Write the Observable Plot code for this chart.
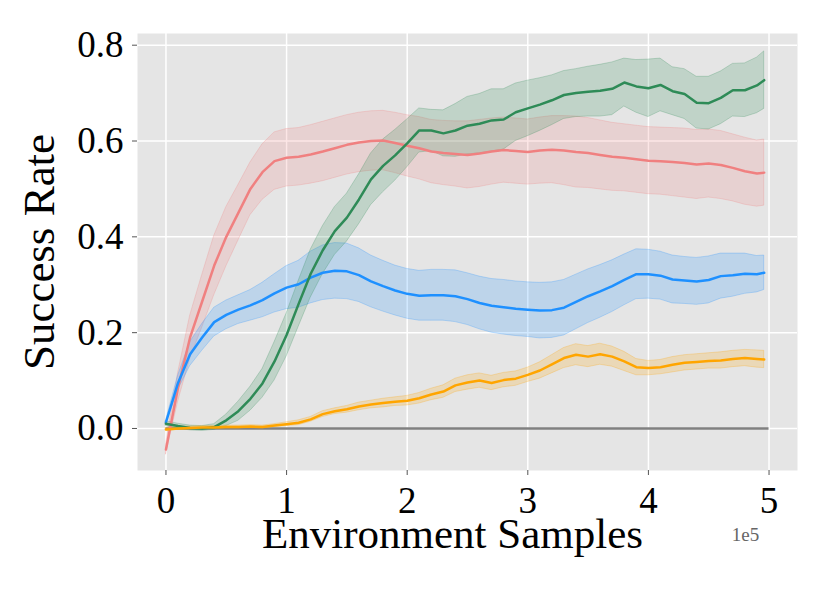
<!DOCTYPE html>
<html>
<head>
<meta charset="utf-8">
<script src="https://cdn.jsdelivr.net/npm/d3@7"></script>
<script src="https://cdn.jsdelivr.net/npm/@observablehq/plot@0.6"></script>
<style>
  html, body { margin: 0; padding: 0; background: #fff; }
  #chart svg { display: block; }
</style>
</head>
<body>
<div id="chart"></div>
<script>
// Environment samples (units of 1e5)
const steps = [0,0.1,0.2,0.3,0.4,0.5,0.6,0.7,0.8,0.9,
  1.0,1.1,1.2,1.3,1.4,1.5,1.6,1.7,1.8,1.9,
  2.0,2.1,2.2,2.3,2.4,2.5,2.6,2.7,2.8,2.9,
  3.0,3.1,3.2,3.3,3.4,3.5,3.6,3.7,3.8,3.9,
  4.0,4.1,4.2,4.3,4.4,4.5,4.6,4.7,4.8,4.9,4.96];

const redMean = [-0.044,0.085,0.19,0.265,0.34,0.40,0.45,0.50,0.535,0.558,
  0.565,0.567,0.572,0.578,0.585,0.592,0.597,0.600,0.601,0.596,
  0.590,0.585,0.578,0.575,0.573,0.571,0.574,0.578,0.581,0.579,
  0.577,0.580,0.582,0.580,0.577,0.575,0.571,0.567,0.565,0.562,
  0.559,0.558,0.556,0.554,0.551,0.553,0.550,0.544,0.537,0.532,0.534];
const redSpread = [0.01,0.03,0.045,0.055,0.062,0.062,0.058,0.055,0.058,0.06,
  0.06,0.06,0.061,0.062,0.062,0.062,0.062,0.062,0.062,0.063,
  0.064,0.065,0.066,0.067,0.068,0.07,0.07,0.069,0.068,0.068,
  0.068,0.069,0.07,0.072,0.074,0.073,0.072,0.071,0.07,0.07,
  0.07,0.07,0.071,0.072,0.072,0.071,0.071,0.07,0.07,0.069,0.069];

const blueMean = [0.013,0.095,0.155,0.19,0.222,0.237,0.248,0.257,0.268,0.282,
  0.294,0.301,0.315,0.325,0.329,0.328,0.320,0.307,0.297,0.288,
  0.281,0.277,0.278,0.278,0.276,0.270,0.262,0.256,0.253,0.250,
  0.248,0.246,0.247,0.252,0.264,0.276,0.286,0.297,0.310,0.322,
  0.322,0.319,0.311,0.309,0.307,0.310,0.318,0.320,0.323,0.322,0.325];
const blueSpread = [0.003,0.015,0.025,0.028,0.03,0.03,0.03,0.032,0.036,0.04,
  0.045,0.049,0.054,0.057,0.058,0.058,0.056,0.054,0.053,0.052,
  0.052,0.052,0.053,0.053,0.054,0.054,0.055,0.056,0.057,0.057,
  0.057,0.058,0.058,0.058,0.057,0.056,0.055,0.054,0.053,0.052,
  0.051,0.05,0.05,0.049,0.049,0.049,0.047,0.045,0.042,0.038,0.036];

const greenMean = [0.010,0.005,0.001,0.000,0.003,0.017,0.036,0.062,0.094,0.14,
  0.195,0.26,0.323,0.372,0.412,0.440,0.478,0.520,0.548,0.570,
  0.595,0.622,0.622,0.616,0.622,0.632,0.636,0.643,0.645,0.660,
  0.668,0.676,0.685,0.696,0.700,0.703,0.705,0.709,0.722,0.714,
  0.710,0.717,0.704,0.698,0.680,0.679,0.690,0.706,0.706,0.716,0.727];
const greenSpread = [0.005,0.005,0.005,0.005,0.006,0.012,0.02,0.025,0.03,0.04,
  0.045,0.048,0.05,0.05,0.05,0.05,0.052,0.054,0.055,0.053,
  0.05,0.046,0.043,0.048,0.055,0.06,0.062,0.065,0.063,0.06,
  0.058,0.055,0.052,0.05,0.05,0.052,0.054,0.055,0.05,0.055,
  0.06,0.055,0.05,0.052,0.054,0.055,0.055,0.055,0.056,0.058,0.06];

const orangeMean = [-0.002,0.000,0.001,0.002,0.002,0.003,0.003,0.004,0.003,0.006,
  0.009,0.012,0.019,0.030,0.036,0.040,0.046,0.050,0.053,0.056,
  0.058,0.063,0.071,0.077,0.090,0.096,0.100,0.095,0.101,0.104,
  0.112,0.121,0.134,0.147,0.154,0.150,0.155,0.150,0.140,0.128,
  0.126,0.128,0.133,0.137,0.139,0.141,0.142,0.145,0.147,0.145,0.144];
const orangeSpread = [0.003,0.003,0.003,0.003,0.003,0.003,0.003,0.003,0.003,0.003,
  0.004,0.005,0.005,0.006,0.006,0.007,0.008,0.008,0.009,0.009,
  0.01,0.011,0.012,0.013,0.014,0.015,0.015,0.015,0.015,0.015,
  0.015,0.017,0.019,0.021,0.022,0.022,0.022,0.021,0.02,0.017,
  0.015,0.015,0.016,0.016,0.016,0.016,0.017,0.017,0.017,0.018,0.018];

const seriesNames = ["red", "blue", "green", "orange"];
const seriesColors = ["#F08080", "#1E90FF", "#2E8B57", "#FFA500"];
const seriesMeans = [redMean, blueMean, greenMean, orangeMean];
const seriesSpreads = [redSpread, blueSpread, greenSpread, orangeSpread];

const xTicks = [0, 1, 2, 3, 4, 5];
const yTicks = [0, 0.2, 0.4, 0.6, 0.8];

const fontFamily = "'Liberation Serif', 'Times New Roman', serif";

const rowsFor = (i) => steps.map((x, k) => ({
  x,
  y: seriesMeans[i][k],
  lo: seriesMeans[i][k] - seriesSpreads[i][k],
  hi: seriesMeans[i][k] + seriesSpreads[i][k]
}));

const bandMarks = [];
const lineMarks = [];
seriesNames.forEach((name, i) => {
  const rows = rowsFor(i);
  bandMarks.push(Plot.areaY(rows, {
    x: "x", y1: "lo", y2: "hi",
    fill: seriesColors[i], fillOpacity: 0.2,
    stroke: seriesColors[i], strokeOpacity: 0.25, strokeWidth: 1
  }));
  lineMarks.push(Plot.lineY(rows, {
    x: "x", y: "y", stroke: seriesColors[i], strokeWidth: 2.5
  }));
});

const chart = Plot.plot({
  width: 830,
  height: 593,
  marginLeft: 137,
  marginRight: 33,
  marginTop: 33,
  marginBottom: 123,
  style: { fontFamily, background: "#fff", color: "#000" },
  x: { domain: [-0.236, 5.236] },
  y: { domain: [-0.0877, 0.8244] },
  marks: [
    Plot.frame({ fill: "#e5e5e5", stroke: null }),
    Plot.gridX(xTicks, { stroke: "#fff", strokeOpacity: 1, strokeWidth: 1.5 }),
    Plot.gridY(yTicks, { stroke: "#fff", strokeOpacity: 1, strokeWidth: 1.5 }),
    Plot.ruleY([0], { x1: 0, x2: 5, stroke: "#808080", strokeWidth: 2.5 }),
    ...bandMarks,
    ...lineMarks,
    Plot.axisX(xTicks, {
      label: null, tickSize: 5, tickPadding: 11, stroke: "#555",
      fontSize: 37, fill: "#000", tickFormat: d => String(d)
    }),
    Plot.axisY(yTicks, {
      label: null, tickSize: 5, tickPadding: 9, stroke: "#555",
      fontSize: 37, fill: "#000", tickFormat: d => d.toFixed(1)
    }),
    Plot.text(["Environment Samples"], {
      frameAnchor: "bottom", textAnchor: "middle", dx: -15, dy: 77, fontSize: 43, fill: "#000"
    }),
    Plot.text(["Success Rate"], {
      frameAnchor: "left", textAnchor: "middle", rotate: -90, dx: -98, dy: 0, fontSize: 45, fill: "#000"
    }),
    Plot.text(["1e5"], {
      frameAnchor: "bottom-right", dx: -52, dy: 70, fontSize: 19,
      fill: "#666", textAnchor: "middle"
    })
  ]
});

document.getElementById("chart").appendChild(chart);
</script>
</body>
</html>
